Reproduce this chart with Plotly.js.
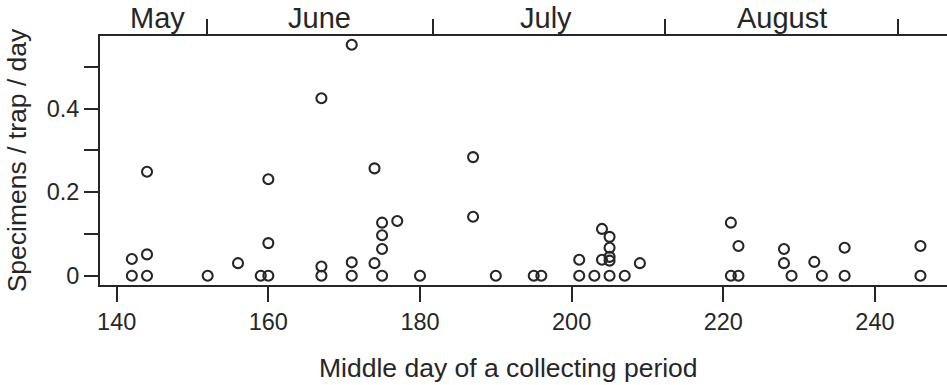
<!DOCTYPE html>
<html>
<head>
<meta charset="utf-8">
<script src="https://cdn.plot.ly/plotly-3.0.1.min.js"></script>
<style>html,body{margin:0;padding:0;background:#fff;}#chart{width:947px;height:385px;}</style>
</head>
<body>
<div id="chart"></div>
<script>
// Middle day of collecting period and specimens / trap / day
const days = [142,142,144,144,144,152,156,159,160,160,160,
  167,167,171,171,171,174,174,175,175,175,175,177,167,180,
  187,187,190,195,196,201,201,203,204,204,205,205,205,205,205,207,209,
  221,221,222,222,228,228,229,232,233,236,236,246,246];
const values = [0,0.040,0.249,0.051,0,0,0.030,0,0,0.078,0.231,
  0.022,0,0.032,0,0.553,0.257,0.030,0.127,0.097,0.064,0,0.131,0.425,0,
  0.284,0.141,0,0,0,0.038,0,0,0.112,0.038,0.093,0.067,0.045,0.036,0,0,0.030,
  0.127,0,0.071,0,0.064,0.030,0,0.033,0,0.067,0,0.071,0];

const xTicks = [140,160,180,200,220,240];
const yTicks = [0,0.1,0.2,0.3,0.4,0.5];
const yTickText = ['0','','0.2','','0.4',''];
const monthBounds = [151.9,181.7,212.3,243.0];
const monthNames = ['May','June','July','August'];
const monthMid = [145.4,166.8,196.6,227.7];
const xTitle = 'Middle day of a collecting period';
const yTitle = 'Specimens / trap / day';

const ink = '#262626';
const xRange = [137.8,249.5];

const trace = {
  x: days, y: values, type: 'scatter', mode: 'markers',
  marker: {symbol: 'circle-open', size: 10, color: ink, line: {width: 2.1, color: ink}},
  hoverinfo: 'x+y'
};
const ghost = {x: [], y: [], xaxis: 'x2', yaxis: 'y', type: 'scatter', mode: 'markers', showlegend: false};

const annotations = monthNames.map((m, i) => ({
  text: m, x: monthMid[i], xref: 'x', y: 1.072, yref: 'paper',
  xanchor: 'center', yanchor: 'middle', showarrow: false,
  font: {size: 29, color: ink}
}));
annotations.push({
  text: xTitle, x: 0.4825, xref: 'paper', y: -0.333, yref: 'paper',
  xanchor: 'center', yanchor: 'middle', showarrow: false,
  font: {size: 26.5, color: ink}
});

const layout = {
  width: 947, height: 385,
  margin: {l: 100, r: 0, t: 36, b: 100},
  paper_bgcolor: '#fff', plot_bgcolor: '#fff',
  showlegend: false,
  font: {family: 'Liberation Sans, Arial, sans-serif', color: ink},
  xaxis: {
    range: xRange, tickvals: xTicks, ticktext: xTicks.map(String),
    ticks: 'outside', ticklen: 15, tickwidth: 2, tickcolor: ink,
    showline: true, linewidth: 2, linecolor: ink,
    showgrid: false, zeroline: false,
    tickfont: {size: 23.5},
    automargin: false
  },
  xaxis2: {
    range: xRange, overlaying: 'x', side: 'top', anchor: 'y',
    tickvals: monthBounds, showticklabels: false,
    ticks: 'outside', ticklen: 15, tickwidth: 2, tickcolor: ink,
    showline: true, linewidth: 2, linecolor: ink,
    showgrid: false, zeroline: false
  },
  yaxis: {
    range: [-0.0223, 0.574], tickvals: yTicks, ticktext: yTickText,
    ticks: 'outside', ticklen: 14, tickwidth: 2, tickcolor: ink,
    showline: true, linewidth: 2, linecolor: ink,
    showgrid: false, zeroline: false,
    tickfont: {size: 23.5},
    title: {text: yTitle, font: {size: 26.5}, standoff: 12},
    automargin: false
  },
  annotations: annotations
};

Plotly.newPlot('chart', [trace, ghost], layout, {displayModeBar: false, staticPlot: true});
</script>
</body>
</html>
